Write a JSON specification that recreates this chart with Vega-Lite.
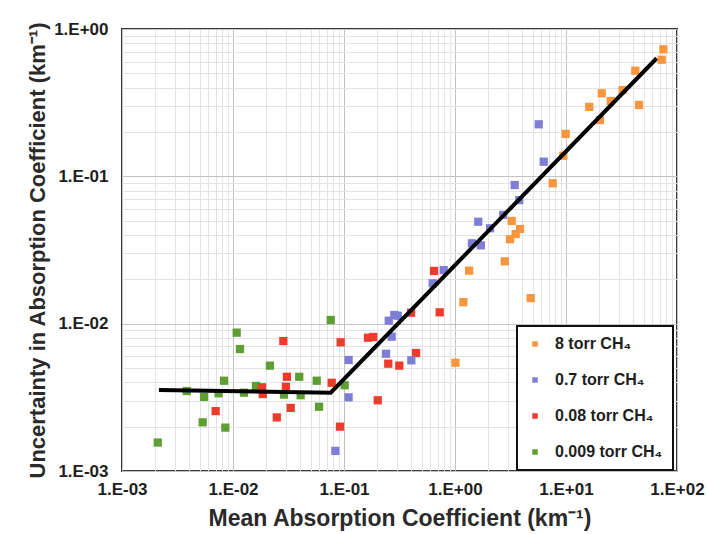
{
  "$schema": "https://vega.github.io/schema/vega-lite/v6.json",
  "width": 555,
  "height": 442,
  "autosize": {"type": "none"},
  "padding": {"left": 122, "top": 29, "right": 30, "bottom": 63},
  "background": "white",
  "config": {
    "view": {"stroke": "#3a3a3a", "strokeWidth": 2},
    "font": "Liberation Sans",
    "legend": {"strokeWidth": 2},
    "axis": {
      "labelFont": "Liberation Sans", "labelFontWeight": "bold", "labelFontSize": 17, "labelColor": "#1e1e1e",
      "titleFont": "Liberation Sans", "titleFontWeight": "bold", "titleFontSize": 22, "titleColor": "#2a2a2a", "titleLimit": 700,
      "domain": false, "ticks": false, "labelOverlap": false, "labelBound": false, "labelFlush": false
    }
  },
  "datasets": {
    "pts": [
      {"x": 0.0759, "y": 0.0106, "s": "0.009 torr CH₄"},
      {"x": 0.0108, "y": 0.00869, "s": "0.009 torr CH₄"},
      {"x": 0.01156, "y": 0.00673, "s": "0.009 torr CH₄"},
      {"x": 0.0215, "y": 0.00519, "s": "0.009 torr CH₄"},
      {"x": 0.0083, "y": 0.0041, "s": "0.009 torr CH₄"},
      {"x": 0.0161, "y": 0.00378, "s": "0.009 torr CH₄"},
      {"x": 0.0395, "y": 0.00436, "s": "0.009 torr CH₄"},
      {"x": 0.0568, "y": 0.0041, "s": "0.009 torr CH₄"},
      {"x": 0.1014, "y": 0.00382, "s": "0.009 torr CH₄"},
      {"x": 0.00383, "y": 0.00349, "s": "0.009 torr CH₄"},
      {"x": 0.00548, "y": 0.00318, "s": "0.009 torr CH₄"},
      {"x": 0.00743, "y": 0.00337, "s": "0.009 torr CH₄"},
      {"x": 0.01256, "y": 0.0034, "s": "0.009 torr CH₄"},
      {"x": 0.0288, "y": 0.0033, "s": "0.009 torr CH₄"},
      {"x": 0.0407, "y": 0.00327, "s": "0.009 torr CH₄"},
      {"x": 0.0596, "y": 0.00273, "s": "0.009 torr CH₄"},
      {"x": 0.00533, "y": 0.00214, "s": "0.009 torr CH₄"},
      {"x": 0.00853, "y": 0.00197, "s": "0.009 torr CH₄"},
      {"x": 0.0021, "y": 0.00156, "s": "0.009 torr CH₄"},
      {"x": 0.0284, "y": 0.00762, "s": "0.08 torr CH₄"},
      {"x": 0.0933, "y": 0.00747, "s": "0.08 torr CH₄"},
      {"x": 0.0306, "y": 0.00436, "s": "0.08 torr CH₄"},
      {"x": 0.030, "y": 0.00373, "s": "0.08 torr CH₄"},
      {"x": 0.01825, "y": 0.0037, "s": "0.08 torr CH₄"},
      {"x": 0.01854, "y": 0.00333, "s": "0.08 torr CH₄"},
      {"x": 0.0775, "y": 0.00397, "s": "0.08 torr CH₄"},
      {"x": 0.00698, "y": 0.00255, "s": "0.08 torr CH₄"},
      {"x": 0.0248, "y": 0.00231, "s": "0.08 torr CH₄"},
      {"x": 0.0331, "y": 0.00268, "s": "0.08 torr CH₄"},
      {"x": 0.092, "y": 0.0020, "s": "0.08 torr CH₄"},
      {"x": 0.1644, "y": 0.00803, "s": "0.08 torr CH₄"},
      {"x": 0.1835, "y": 0.00812, "s": "0.08 torr CH₄"},
      {"x": 0.2014, "y": 0.00302, "s": "0.08 torr CH₄"},
      {"x": 0.402, "y": 0.01187, "s": "0.08 torr CH₄"},
      {"x": 0.2505, "y": 0.00535, "s": "0.08 torr CH₄"},
      {"x": 0.315, "y": 0.00519, "s": "0.08 torr CH₄"},
      {"x": 0.446, "y": 0.00632, "s": "0.08 torr CH₄"},
      {"x": 0.728, "y": 0.01194, "s": "0.08 torr CH₄"},
      {"x": 0.647, "y": 0.0228, "s": "0.08 torr CH₄"},
      {"x": 0.110, "y": 0.00567, "s": "0.7 torr CH₄"},
      {"x": 0.110, "y": 0.00316, "s": "0.7 torr CH₄"},
      {"x": 0.0836, "y": 0.00137, "s": "0.7 torr CH₄"},
      {"x": 0.239, "y": 0.00625, "s": "0.7 torr CH₄"},
      {"x": 0.269, "y": 0.00816, "s": "0.7 torr CH₄"},
      {"x": 0.253, "y": 0.01047, "s": "0.7 torr CH₄"},
      {"x": 0.284, "y": 0.01145, "s": "0.7 torr CH₄"},
      {"x": 0.305, "y": 0.01132, "s": "0.7 torr CH₄"},
      {"x": 0.404, "y": 0.00564, "s": "0.7 torr CH₄"},
      {"x": 0.791, "y": 0.0231, "s": "0.7 torr CH₄"},
      {"x": 0.630, "y": 0.0188, "s": "0.7 torr CH₄"},
      {"x": 1.42, "y": 0.0351, "s": "0.7 torr CH₄"},
      {"x": 1.71, "y": 0.034, "s": "0.7 torr CH₄"},
      {"x": 1.62, "y": 0.0492, "s": "0.7 torr CH₄"},
      {"x": 2.07, "y": 0.0444, "s": "0.7 torr CH₄"},
      {"x": 2.72, "y": 0.0547, "s": "0.7 torr CH₄"},
      {"x": 3.45, "y": 0.0873, "s": "0.7 torr CH₄"},
      {"x": 3.79, "y": 0.069, "s": "0.7 torr CH₄"},
      {"x": 5.68, "y": 0.2255, "s": "0.7 torr CH₄"},
      {"x": 6.30, "y": 0.1257, "s": "0.7 torr CH₄"},
      {"x": 75.4, "y": 0.728, "s": "8 torr CH₄"},
      {"x": 72.8, "y": 0.619, "s": "8 torr CH₄"},
      {"x": 42.1, "y": 0.521, "s": "8 torr CH₄"},
      {"x": 21.0, "y": 0.366, "s": "8 torr CH₄"},
      {"x": 32.4, "y": 0.385, "s": "8 torr CH₄"},
      {"x": 25.3, "y": 0.325, "s": "8 torr CH₄"},
      {"x": 16.2, "y": 0.296, "s": "8 torr CH₄"},
      {"x": 45.5, "y": 0.305, "s": "8 torr CH₄"},
      {"x": 20.2, "y": 0.241, "s": "8 torr CH₄"},
      {"x": 9.93, "y": 0.194, "s": "8 torr CH₄"},
      {"x": 9.46, "y": 0.138, "s": "8 torr CH₄"},
      {"x": 7.59, "y": 0.0897, "s": "8 torr CH₄"},
      {"x": 3.24, "y": 0.0498, "s": "8 torr CH₄"},
      {"x": 3.85, "y": 0.0439, "s": "8 torr CH₄"},
      {"x": 3.52, "y": 0.0406, "s": "8 torr CH₄"},
      {"x": 3.13, "y": 0.0374, "s": "8 torr CH₄"},
      {"x": 2.81, "y": 0.0265, "s": "8 torr CH₄"},
      {"x": 4.81, "y": 0.0149, "s": "8 torr CH₄"},
      {"x": 1.01, "y": 0.00543, "s": "8 torr CH₄"},
      {"x": 1.19, "y": 0.0140, "s": "8 torr CH₄"},
      {"x": 1.34, "y": 0.0229, "s": "8 torr CH₄"}
    ],
    "fit": [
      {"x": 0.00215, "y": 0.00355},
      {"x": 0.0759, "y": 0.0034},
      {"x": 65.6, "y": 0.633}
    ]
  },
  "encoding": {
    "x": {
      "field": "x", "type": "quantitative",
      "scale": {"type": "log", "domain": [0.001, 100], "nice": false},
      "axis": {
        "title": "Mean Absorption Coefficient (km⁻¹)",
        "titleFontSize": 23,
        "values": [0.001,0.002,0.003,0.004,0.005,0.006,0.007,0.008,0.009,0.01,0.02,0.03,0.04,0.05,0.06,0.07,0.08,0.09,0.1,0.2,0.3,0.4,0.5,0.6,0.7,0.8,0.9,1,2,3,4,5,6,7,8,9,10,20,30,40,50,60,70,80,90,100],
        "labelExpr": "abs(log(datum.value)/LN10 - round(log(datum.value)/LN10)) < 0.01 ? '1.E' + (round(log(datum.value)/LN10) < 0 ? '-' : '+') + (abs(round(log(datum.value)/LN10)) < 10 ? '0' : '') + abs(round(log(datum.value)/LN10)) : ''",
        "grid": true,
        "gridColor": {"condition": {"test": "abs(log(datum.value)/LN10 - round(log(datum.value)/LN10)) < 0.01", "value": "#c2c2c2"}, "value": "#e3e3e3"},
        "labelPadding": 10,
        "titlePadding": 10
      }
    },
    "y": {
      "field": "y", "type": "quantitative",
      "scale": {"type": "log", "domain": [0.001, 1], "nice": false},
      "axis": {
        "title": "Uncertainty in Absorption Coefficient (km⁻¹)",
        "values": [0.001,0.002,0.003,0.004,0.005,0.006,0.007,0.008,0.009,0.01,0.02,0.03,0.04,0.05,0.06,0.07,0.08,0.09,0.1,0.2,0.3,0.4,0.5,0.6,0.7,0.8,0.9,1],
        "labelExpr": "abs(log(datum.value)/LN10 - round(log(datum.value)/LN10)) < 0.01 ? '1.E' + (round(log(datum.value)/LN10) < 0 ? '-' : '+') + (abs(round(log(datum.value)/LN10)) < 10 ? '0' : '') + abs(round(log(datum.value)/LN10)) : ''",
        "grid": true,
        "gridColor": {"condition": {"test": "abs(log(datum.value)/LN10 - round(log(datum.value)/LN10)) < 0.01", "value": "#c2c2c2"}, "value": "#e3e3e3"},
        "labelPadding": 14,
        "titlePadding": 4
      }
    }
  },
  "layer": [
    {
      "data": {"name": "pts"},
      "mark": {"type": "square", "size": 68, "opacity": 1},
      "encoding": {
        "color": {
          "field": "s", "type": "nominal",
          "scale": {"domain": ["8 torr CH₄", "0.7 torr CH₄", "0.08 torr CH₄", "0.009 torr CH₄"], "range": ["#F7963C", "#7E7ED6", "#EE3B2B", "#5E9E32"]},
          "legend": {
            "title": null, "orient": "none", "legendX": 395, "legendY": 297,
            "fillColor": "white", "strokeColor": "#111", "padding": 10,
            "symbolType": "square", "symbolSize": 30, "symbolStrokeWidth": 0, "symbolOpacity": 1,
            "labelFont": "Liberation Sans", "labelFontWeight": "bold", "labelFontSize": 16, "labelColor": "#1e1e1e",
            "labelOffset": 12, "rowPadding": 20, "labelLimit": 300
          }
        }
      }
    },
    {
      "data": {"name": "fit"},
      "mark": {"type": "line", "color": "#000000", "strokeWidth": 4}
    }
  ]
}
